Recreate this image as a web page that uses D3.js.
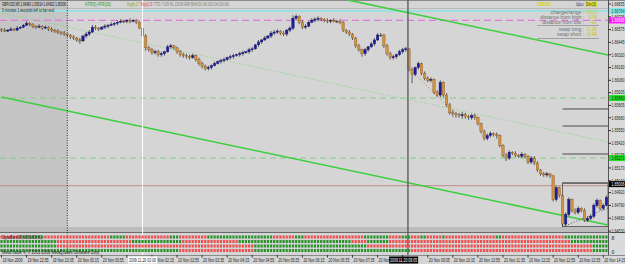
<!DOCTYPE html>
<html>
<head>
<meta charset="utf-8">
<script src="https://cdn.jsdelivr.net/npm/d3@7/dist/d3.min.js"></script>
<style>
body { margin: 0; background: #d5d5d5; }
svg { display: block; }
text { font-family: "Liberation Sans", Arial, sans-serif; }
</style>
</head>
<body>
<div id="chart"></div>
<script>
// GBPUSD M5, 19-20 Nov 2009. prices are pips above 1.6400
var opens = [258,257,256,257,258,257,259,260,262,264, 263,261,260,261,259,260,258,257,256,255,
	254,253,252,250,249,247,246,251,253,255, 260,259,258,260,261,262,263,264,265,266,
	266,267,266,267,265,259,251,239,237,234, 235,232,233,235,240,241,239,235,232,231,
	230,229,231,227,223,220,218,219,221,223, 225,226,227,229,230,231,232,233,234,235,
	237,238,242,245,247,249,251,254,255,256, 254,253,257,259,269,271,265,260,261,265,
	267,268,269,268,267,266,267,266,266,265, 257,255,253,249,241,237,233,237,240,243,
	247,252,252,241,233,229,230,232,235,237, 238,217,212,219,223,213,208,206,207,194,
	191,204,191,181,173,172,171,170,171,169, 168,170,168,162,154,147,150,152,151,150,
	140,130,127,133,132,130,129,131,129,123, 127,122,115,111,110,111,109,85,97,89,
	60,70,85,74,72,76,74,64,66,68, 79,84,76,79];
var highs = [259,259,258,260,259,261,261,263,266,265, 264,262,263,262,262,261,260,258,258,256,
	256,254,253,252,250,249,252,255,257,262, 262,260,261,263,263,265,265,267,268,267,
	268,269,268,268,266,260,253,241,239,237, 237,235,236,242,243,242,240,237,234,233,
	232,233,232,229,225,222,221,222,225,226, 228,229,230,232,233,233,235,236,236,239,
	240,243,247,248,251,252,256,257,258,257, 256,258,261,272,273,272,267,263,266,269,
	270,271,270,269,269,268,269,267,268,266, 258,257,254,250,243,238,239,241,245,249,
	254,254,253,243,235,232,233,237,239,240, 239,219,220,225,224,215,210,209,208,196,
	206,205,193,183,176,174,173,174,173,171, 172,172,169,163,156,152,154,153,153,151,
	141,132,135,134,134,131,133,132,130,129, 129,124,116,113,113,112,110,99,98,90,
	72,87,86,76,78,77,76,68,70,81, 86,85,81,89];
var lows = [255,255,255,256,256,256,258,259,261,261, 259,258,259,257,258,256,255,254,253,252,
	251,250,248,247,245,243,245,249,251,254, 257,256,257,258,259,261,261,262,264,264,
	264,264,265,263,258,249,236,235,232,232, 230,230,231,234,238,237,233,230,229,228,
	227,228,225,221,218,216,216,217,220,222, 223,224,226,227,228,230,230,231,233,233,
	235,237,240,243,246,248,249,252,253,252, 251,251,255,257,267,263,258,258,260,264,
	265,266,266,265,264,264,265,264,263,255, 253,251,247,239,235,230,231,235,239,241,
	246,250,239,231,227,227,228,231,233,235, 215,203,210,217,211,206,204,204,192,189,
	189,189,179,171,169,168,168,167,167,166, 166,166,160,152,145,145,148,149,147,138,
	128,124,125,130,128,127,127,127,121,121, 120,113,109,108,108,107,83,83,87,57,
	58,68,72,70,70,72,62,62,64,66, 77,74,74,78];
var closes = [257,256,257,258,257,259,260,262,264,263, 261,260,261,259,260,258,257,256,255,254,
	253,252,250,249,247,246,251,253,255,260, 259,258,260,261,262,263,264,265,266,266,
	267,266,267,265,259,251,239,237,234,235, 232,233,235,240,241,239,235,232,231,230,
	229,231,227,223,220,218,219,221,223,225, 226,227,229,230,231,232,233,234,235,237,
	238,242,245,247,249,251,254,255,256,254, 253,257,259,269,271,265,260,261,265,267,
	268,269,268,267,266,267,266,266,265,257, 255,253,249,241,237,233,237,240,243,247,
	252,252,241,233,229,230,232,235,237,238, 217,212,219,223,213,208,206,207,194,191,
	204,191,181,173,172,171,170,171,169,168, 170,168,162,154,147,150,152,151,150,140,
	130,127,133,132,130,129,131,129,123,127, 122,115,111,110,111,109,85,97,89,60,
	70,85,74,72,76,74,64,66,68,79, 84,76,79,87];

var priceTicks = ["1.66835","1.66705","1.66575","1.66445","1.66320","1.66190","1.66060","1.65935","1.65805",
	"1.65680","1.65550","1.65420","1.65295","1.65170","1.65040","1.64920","1.64790","1.64660","1.64530"];
// one label every 8 bars; null where a vertical line's time box hides it
var timeLabels = ["19 Nov 2009","19 Nov 22:55","19 Nov 23:35","20 Nov 00:15","20 Nov 00:55",null,
	"20 Nov 02:15","20 Nov 02:55","20 Nov 03:35","20 Nov 04:15","20 Nov 04:55","20 Nov 05:35","20 Nov 06:15",
	"20 Nov 06:55","20 Nov 07:35","20 Nov 08:15",null,"20 Nov 09:35","20 Nov 10:15","20 Nov 10:55",
	"20 Nov 11:35","20 Nov 12:15","20 Nov 12:55","20 Nov 13:35","20 Nov 14:15"];

// horizontal levels
var cyanLevel = 1.66764;
var magentaLevel = 1.66668;
var greenLevels = [1.65880, 1.65271];
var bidLevel = 1.65006;
var brownLevel = 1.64990;
var rangeLevels = [1.65769, 1.65596, 1.65312, 1.65017];

// trend objects: [bar, price]
var channelTop = [[110.5, 1.66876], [193.5, 1.66317]];
var channelMid = [[0, 1.66744], [193.5, 1.65434]];
var channelBot = [[0, 1.65891], [193.5, 1.64591]];
var redTrend = [[130, 1.66185], [142.5, 1.65789]];
var blackTrend = [[179, 1.64571], [193.5, 1.64764]];
var vLines = [21, 45, 130];

// signal bars indicator, runs of red/green per row
var sigRow1 = [["r",7],["g",7],["r",21],["g",5],["r",14],["g",3],["r",9],["g",21],["r",7],["g",3],["r",19],
	["g",8],["r",4],["g",3],["r",3],["g",2],["r",5],["g",1],["r",16],["g",2],["r",20],["g",14]];
var sigRow2 = [["g",18],["r",24],["g",16],["r",18],["g",36],["r",5],["g",7],["r",58],["g",12]];
var sigRow3 = [["g",18],["r",63],["g",36],["r",72],["g",5]];
var sigRow4 = [["g",57],["r",24],["g",50],["r",58],["g",5]];

var W = 625, H = 264;
var plotR = 608, mainB = 227;

var svg = d3.select("#chart").append("svg")
	.attr("width", W)
	.attr("height", H);

var x = d3.scaleLinear().domain([0, 193]).range([1.5, 606.4]);
var y = d3.scaleLinear().domain([1.64530, 1.66835]).range([231, 4]);
function px(v) { return 1.64 + v / 10000; }

// backgrounds
svg.append("rect").attr("x", 0).attr("y", 0).attr("width", W).attr("height", H).attr("fill", "#d5d5d5");
svg.append("rect").attr("x", plotR).attr("y", 0).attr("width", W - plotR).attr("height", H).attr("fill", "#dadada");
svg.append("rect").attr("x", 0).attr("y", 0).attr("width", x(vLines[0])).attr("height", mainB).attr("fill", "#c5c5c5");
svg.append("rect").attr("x", 0).attr("y", mainB).attr("width", plotR).attr("height", 5).attr("fill", "#bcbcbc");
svg.append("line").attr("x1", 0).attr("x2", W).attr("y1", 232.5).attr("y2", 232.5).attr("stroke", "#6a6a6a");
svg.append("line").attr("x1", 0).attr("x2", plotR).attr("y1", 8.5).attr("y2", 8.5).attr("stroke", "#bababa");
svg.append("line").attr("x1", 0).attr("x2", W).attr("y1", 0.5).attr("y2", 0.5).attr("stroke", "#8a8a8a");
svg.append("line").attr("x1", 0).attr("x2", W).attr("y1", 255.5).attr("y2", 255.5).attr("stroke", "#8a8a8a");

svg.append("clipPath").attr("id", "plotclip")
	.append("rect").attr("x", 0).attr("y", 0).attr("width", plotR).attr("height", mainB);
var plot = svg.append("g").attr("clip-path", "url(#plotclip)");

// horizontal lines
function hline(p, color, dash, w) {
	plot.append("line")
		.attr("x1", 0).attr("x2", plotR)
		.attr("y1", y(p)).attr("y2", y(p))
		.attr("stroke", color)
		.attr("stroke-width", w || 1)
		.attr("stroke-dasharray", dash || null);
}
hline(cyanLevel, "#9ee0e0", null, 1.8);
hline(magentaLevel, "#e07ae0", "7,4", 1.3);
greenLevels.forEach(function(p) { hline(p, "#86cc86", "6,4", 1); });
hline(brownLevel, "#c48c8c", null, 1);

rangeLevels.forEach(function(p) {
	plot.append("line")
		.attr("x1", x(179)).attr("x2", plotR)
		.attr("y1", y(p)).attr("y2", y(p))
		.attr("stroke", "#4a4a4a");
});
plot.append("rect")
	.attr("x", x(179)).attr("y", y(rangeLevels[3]))
	.attr("width", plotR - x(179)).attr("height", mainB - 0.5 - y(rangeLevels[3]))
	.attr("fill", "none").attr("stroke", "#4a4a4a").attr("stroke-width", 0.8);

// trend lines
function tline(pts, color, dash, w) {
	plot.append("line")
		.attr("x1", x(pts[0][0])).attr("y1", y(pts[0][1]))
		.attr("x2", x(pts[1][0])).attr("y2", y(pts[1][1]))
		.attr("stroke", color)
		.attr("stroke-width", w)
		.attr("stroke-dasharray", dash);
}
tline(channelTop, "#3ccf3c", null, 1.5);
tline(channelBot, "#3ccf3c", null, 1.5);
tline(channelMid, "#7cd87c", "1,2", 1);
tline(redTrend, "#d86a6a", "1,2", 1);
tline(blackTrend, "#333", "1,2", 0.8);

// vertical lines
svg.append("line").attr("x1", x(vLines[0])).attr("x2", x(vLines[0])).attr("y1", 0).attr("y2", 255)
	.attr("stroke", "#333").attr("stroke-dasharray", "1,1.5");
svg.append("line").attr("x1", x(vLines[1])).attr("x2", x(vLines[1])).attr("y1", 0).attr("y2", 255)
	.attr("stroke", "#ffffff").attr("stroke-width", 1);
svg.append("line").attr("x1", x(vLines[2]) - 1).attr("x2", x(vLines[2]) - 1).attr("y1", 0).attr("y2", 255)
	.attr("stroke", "#555").attr("stroke-width", 1.3);

// candles
var bars = d3.range(closes.length);
plot.selectAll(".wick")
	.data(bars)
	.enter().append("line")
	.attr("class", "wick")
	.attr("x1", function(i) { return x(i); })
	.attr("x2", function(i) { return x(i); })
	.attr("y1", function(i) { return y(px(highs[i])); })
	.attr("y2", function(i) { return y(px(lows[i])); })
	.attr("stroke", "#3a3a3a")
	.attr("stroke-width", 0.8);
plot.selectAll(".body")
	.data(bars)
	.enter().append("rect")
	.attr("class", "body")
	.attr("x", function(i) { return x(i) - 1.2; })
	.attr("width", 2.4)
	.attr("y", function(i) { return y(px(Math.max(opens[i], closes[i]))); })
	.attr("height", function(i) { return Math.max(0.8, Math.abs(y(px(opens[i])) - y(px(closes[i])))); })
	.attr("fill", function(i) {
		if (closes[i] == opens[i]) return "#333";
		return closes[i] > opens[i] ? "#1d1d9c" : "#d4913e";
	})
	.attr("stroke", function(i) { return closes[i] > opens[i] ? "#14146a" : "#8c5a22"; })
	.attr("stroke-width", 0.4);

// small text helper, squeezed like the original screenshot
function txt(g, tx, ty, s, size, color, len, anchor, weight) {
	var t = g.append("text")
		.attr("x", tx).attr("y", ty)
		.attr("font-size", size + "px")
		.attr("fill", color)
		.attr("text-anchor", anchor || "start")
		.text(s);
	if (len) t.attr("textLength", len).attr("lengthAdjust", "spacingAndGlyphs");
	if (weight) t.attr("font-weight", weight);
	return t;
}

// header texts
txt(svg, 2, 5.5, "GBPUSD,M5  1.64960 1.65014 1.64932 1.65006", 5.5, "#111", 64);
txt(svg, 2, 11.5, "0 minutes 1 seconds left to bar end", 5, "#222", 52);
txt(svg, 85, 5.5, "ATR(5) ATR(20)", 5, "#2a9a2a", 26);
txt(svg, 127, 5.5, "Rng(h):17", 5, "#8aa020", 12);
txt(svg, 140.5, 5.5, "Rng(d):15", 5, "#e04040", 12);
txt(svg, 154, 5.5, "T/TD: 71/35  H/L 125/95  ADR:58/48  50:140  100:104  200:180", 5, "#7a7a7a", 75);

// info panel
txt(svg, 537, 5.5, "GBPUSD", 5.5, "#d6d600", 14, null, "bold");
txt(svg, 576, 5.5, "UpLo:", 5, "#222", 8);
svg.append("rect").attr("x", 585).attr("y", 1.5).attr("width", 12).attr("height", 5).attr("fill", "#e8e030");
txt(svg, 586, 5.5, "Div(3)", 5, "#333", 10);
var infoRows = [["change/range", "-0.0070/0.0092", 13.5], ["distance from high", "174", 18.5], ["distance from low", "-91", 23.5],
	["swap long", "-1.26", 30.5], ["swap short", "-3.46", 35.5]];
infoRows.forEach(function(r) {
	txt(svg, 584, r[2], r[0] + " :", 5, "#707070", null, "end");
	txt(svg, 597, r[2], r[1], 5, "#c8c800", r[1].length > 6 ? 11 : null, "end");
});
svg.append("line").attr("x1", 537).attr("x2", 599).attr("y1", 25.5).attr("y2", 25.5).attr("stroke", "#8a8a8a").attr("stroke-width", 0.7);
svg.append("line").attr("x1", 537).attr("x2", 599).attr("y1", 38.5).attr("y2", 38.5).attr("stroke", "#8a8a8a").attr("stroke-width", 0.7);

// indicator window
var rowsY = [235.5, 240, 244.5, 249];
[sigRow1, sigRow2, sigRow3, sigRow4].forEach(function(runs, r) {
	var cells = [];
	runs.forEach(function(run) {
		for (var k = 0; k < run[1]; k++) cells.push(run[0]);
	});
	svg.append("g").selectAll("rect")
		.data(cells)
		.enter().append("rect")
		.attr("x", function(d, i) { return x(i) - 1.1; })
		.attr("y", rowsY[r])
		.attr("width", 2.2)
		.attr("height", 3)
		.attr("fill", function(d) { return d == "r" ? "#ee5050" : "#2a922a"; });
});
txt(svg, 2, 238.8, "SignalBars(M5,M15,M30,H1)", 4.5, "#3a1010", 40);
txt(svg, 2, 254.3, "MetaTrader 4, \u00a9 2001-2009 MetaQuotes Software Corp.", 5, "#222", 98);

// price axis
svg.append("line").attr("x1", plotR + 0.5).attr("x2", plotR + 0.5).attr("y1", 0).attr("y2", 255)
	.attr("stroke", "#555");
priceTicks.forEach(function(s) {
	var yy = y(+s);
	svg.append("line").attr("x1", plotR).attr("x2", plotR + 3).attr("y1", yy).attr("y2", yy).attr("stroke", "#333");
	txt(svg, plotR + 3.5, yy + 1.8, s, 5, "#222", 13);
});
function levelLabel(p, fill, color) {
	var yy = y(p);
	svg.append("rect").attr("x", plotR + 1).attr("y", yy - 3).attr("width", 16).attr("height", 6).attr("fill", fill);
	txt(svg, plotR + 3.5, yy + 1.8, p.toFixed(5), 5, color, 13);
}
levelLabel(cyanLevel, "#80e6e6", "#205050");
levelLabel(magentaLevel, "#ff10ff", "#ffffff");
greenLevels.forEach(function(p) { levelLabel(p, "#22dd22", "#0a3a0a"); });
levelLabel(bidLevel, "#000000", "#ffffff");
// indicator axis
txt(svg, plotR + 3.5, 239.5, "8", 5, "#222");
txt(svg, plotR + 3.5, 253.5, "0", 5, "#222");

// time axis
timeLabels.forEach(function(s, k) {
	var xx = x(k * 8);
	svg.append("line").attr("x1", xx).attr("x2", xx).attr("y1", 255).attr("y2", 257.5).attr("stroke", "#333");
	if (s) txt(svg, xx + 1, 262, s, 5, "#222", s.length > 11 ? 21 : 20);
});
function timeBox(bar, s, fill, color) {
	var xx = x(bar);
	svg.append("rect").attr("x", xx - 14.5).attr("y", 256.5).attr("width", 29).attr("height", 7).attr("fill", fill);
	txt(svg, xx, 262, s, 5, color, 27, "middle");
}
timeBox(vLines[1], "2009.11.20 02:00", "#ffffff", "#222");
timeBox(vLines[2] - 1.7, "2009.11.20 09:05", "#000000", "#ffffff");
</script>
</body>
</html>
